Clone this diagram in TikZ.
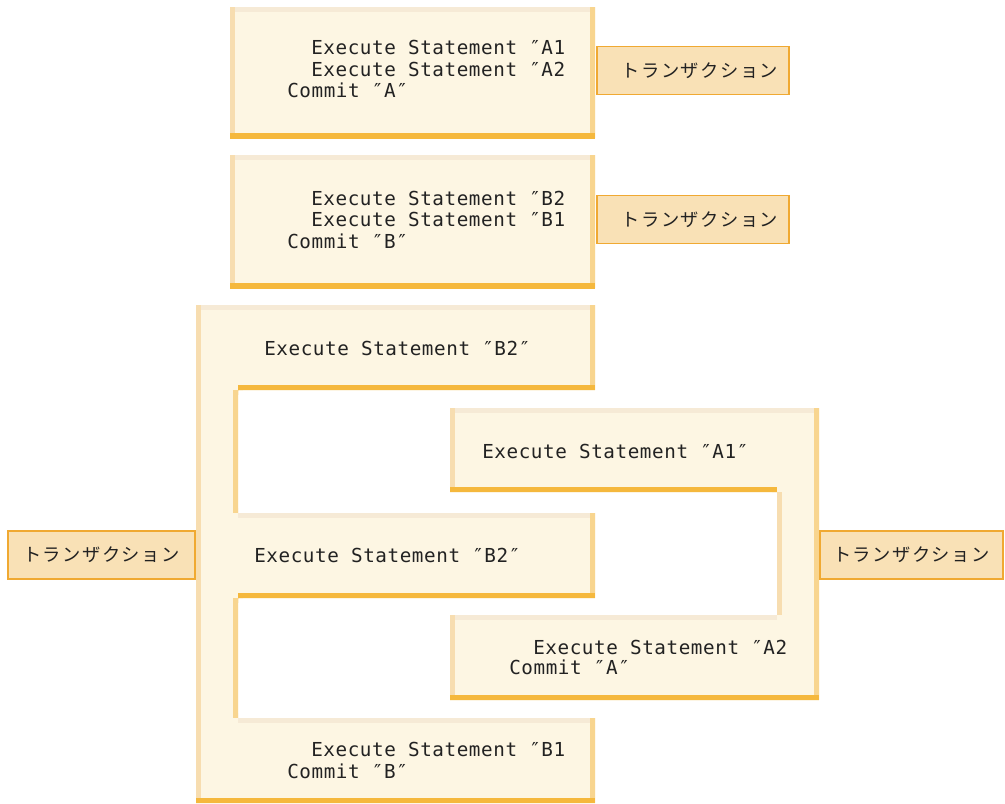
\documentclass[tikz,border=0pt]{standalone}
\usepackage{fontspec}
\setmonofont[LetterSpace=3]{DejaVu Sans Mono}
\newfontfamily\jpfont[LetterSpace=8]{Noto Sans CJK JP}
\definecolor{boxfill}{HTML}{FDF6E3}
\definecolor{edgelight}{HTML}{F6EAD6}
\definecolor{edgepeach}{HTML}{F7DDB0}
\definecolor{edgeorange}{HTML}{F5B83D}
\definecolor{edgemid}{HTML}{F8D58F}
\definecolor{tagfill}{HTML}{F9E1B6}
\definecolor{tagline}{HTML}{F0A932}
\definecolor{ink}{HTML}{222222}
\begin{document}
\begin{tikzpicture}[x=0.025cm,y=-0.025cm,
    edgetop/.style={draw=edgelight,line width=0.25cm},
    edgeleft/.style={draw=edgepeach,line width=0.25cm},
    edgeright/.style={draw=edgemid,line width=0.25cm},
    edgebot/.style={draw=edgeorange,line width=0.25cm},
    stmt/.style={anchor=base west,inner sep=0pt,text=ink,
      font=\ttfamily\fontsize{13.7}{16}\selectfont},
    tag/.style={draw=tagline,fill=tagfill,line width=1.4pt,inner sep=0pt,
      minimum height=1.2cm,text=ink,font=\jpfont\fontsize{13}{15}\selectfont}]
  \useasboundingbox (0,0) rectangle (1005,803);

  % transaction A
  \begin{scope}
    \clip (230,7) rectangle (595,138);
    \fill[boxfill] (0,0) rectangle (1005,803);
    \draw[edgetop] (230,7) -- (595,7);
    \draw[edgeleft] (230,7) -- (230,138);
    \draw[edgeright] (595,7) -- (595,138);
    \draw[edgebot] (230,138) -- (595,138);
  \end{scope}
  % transaction B
  \begin{scope}
    \clip (230,155) rectangle (595,288);
    \fill[boxfill] (0,0) rectangle (1005,803);
    \draw[edgetop] (230,155) -- (595,155);
    \draw[edgeleft] (230,155) -- (230,288);
    \draw[edgeright] (595,155) -- (595,288);
    \draw[edgebot] (230,288) -- (595,288);
  \end{scope}
  % interleaved B
  \begin{scope}
    \clip (196,305) -- (595,305) -- (595,390) -- (238,390)
      -- (238,513) -- (595,513) -- (595,598) -- (238,598) -- (238,718)
      -- (595,718) -- (595,803) -- (196,803) -- cycle;
    \fill[boxfill] (0,0) rectangle (1005,803);
    \draw[edgetop] (196,305) -- (595,305);
    \draw[edgetop] (238,513) -- (595,513);
    \draw[edgetop] (238,718) -- (595,718);
    \draw[edgeleft] (196,305) -- (196,803);
    \draw[edgeright] (595,305) -- (595,390);
    \draw[edgeright] (238,390) -- (238,513);
    \draw[edgeright] (595,513) -- (595,598);
    \draw[edgeright] (238,598) -- (238,718);
    \draw[edgeright] (595,718) -- (595,803);
    \draw[edgebot] (595,390) -- (238,390);
    \draw[edgebot] (595,598) -- (238,598);
    \draw[edgebot] (595,803) -- (196,803);
  \end{scope}
  % interleaved A
  \begin{scope}
    \clip (450,408) -- (819,408) -- (819,700) -- (450,700)
      -- (450,615) -- (777,615) -- (777,492) -- (450,492) -- cycle;
    \fill[boxfill] (0,0) rectangle (1005,803);
    \draw[edgetop] (450,408) -- (819,408);
    \draw[edgetop] (450,615) -- (777,615);
    \draw[edgeleft] (450,408) -- (450,492);
    \draw[edgeleft] (777,492) -- (777,615);
    \draw[edgeleft] (450,615) -- (450,700);
    \draw[edgeright] (819,408) -- (819,700);
    \draw[edgebot] (777,492) -- (450,492);
    \draw[edgebot] (819,700) -- (450,700);
  \end{scope}

  % labels
  \node[tag,minimum width=4.8cm] (tagA) at (693,70.5) {\hspace{0.35cm}トランザクション};
  \node[tag,minimum width=4.8cm] (tagB) at (693,219.5) {\hspace{0.35cm}トランザクション};
  \node[tag,minimum width=4.675cm] (tagL) at (101.5,555) {トランザクション};
  \node[tag,minimum width=4.575cm] (tagR) at (911.5,555) {トランザクション};

  % statements
  \node[stmt] (a1) at (311,54) {Execute Statement ″A1};
  \node[stmt] (a2) at (311,76) {Execute Statement ″A2};
  \node[stmt] (acommit) at (287,97) {Commit ″A″};
  \node[stmt] (b2) at (311,205) {Execute Statement ″B2};
  \node[stmt] (b1) at (311,226) {Execute Statement ″B1};
  \node[stmt] (bcommit) at (287,248) {Commit ″B″};
  \node[stmt] (mixb2) at (264,355) {Execute Statement ″B2″};
  \node[stmt] (mixa1) at (482,458) {Execute Statement ″A1″};
  \node[stmt] (mixb2again) at (254,562) {Execute Statement ″B2″};
  \node[stmt] (mixa2) at (533,654) {Execute Statement ″A2};
  \node[stmt] (mixacommit) at (509,674) {Commit ″A″};
  \node[stmt] (mixb1) at (311,756) {Execute Statement ″B1};
  \node[stmt] (mixbcommit) at (287,778) {Commit ″B″};
\end{tikzpicture}
\end{document}
